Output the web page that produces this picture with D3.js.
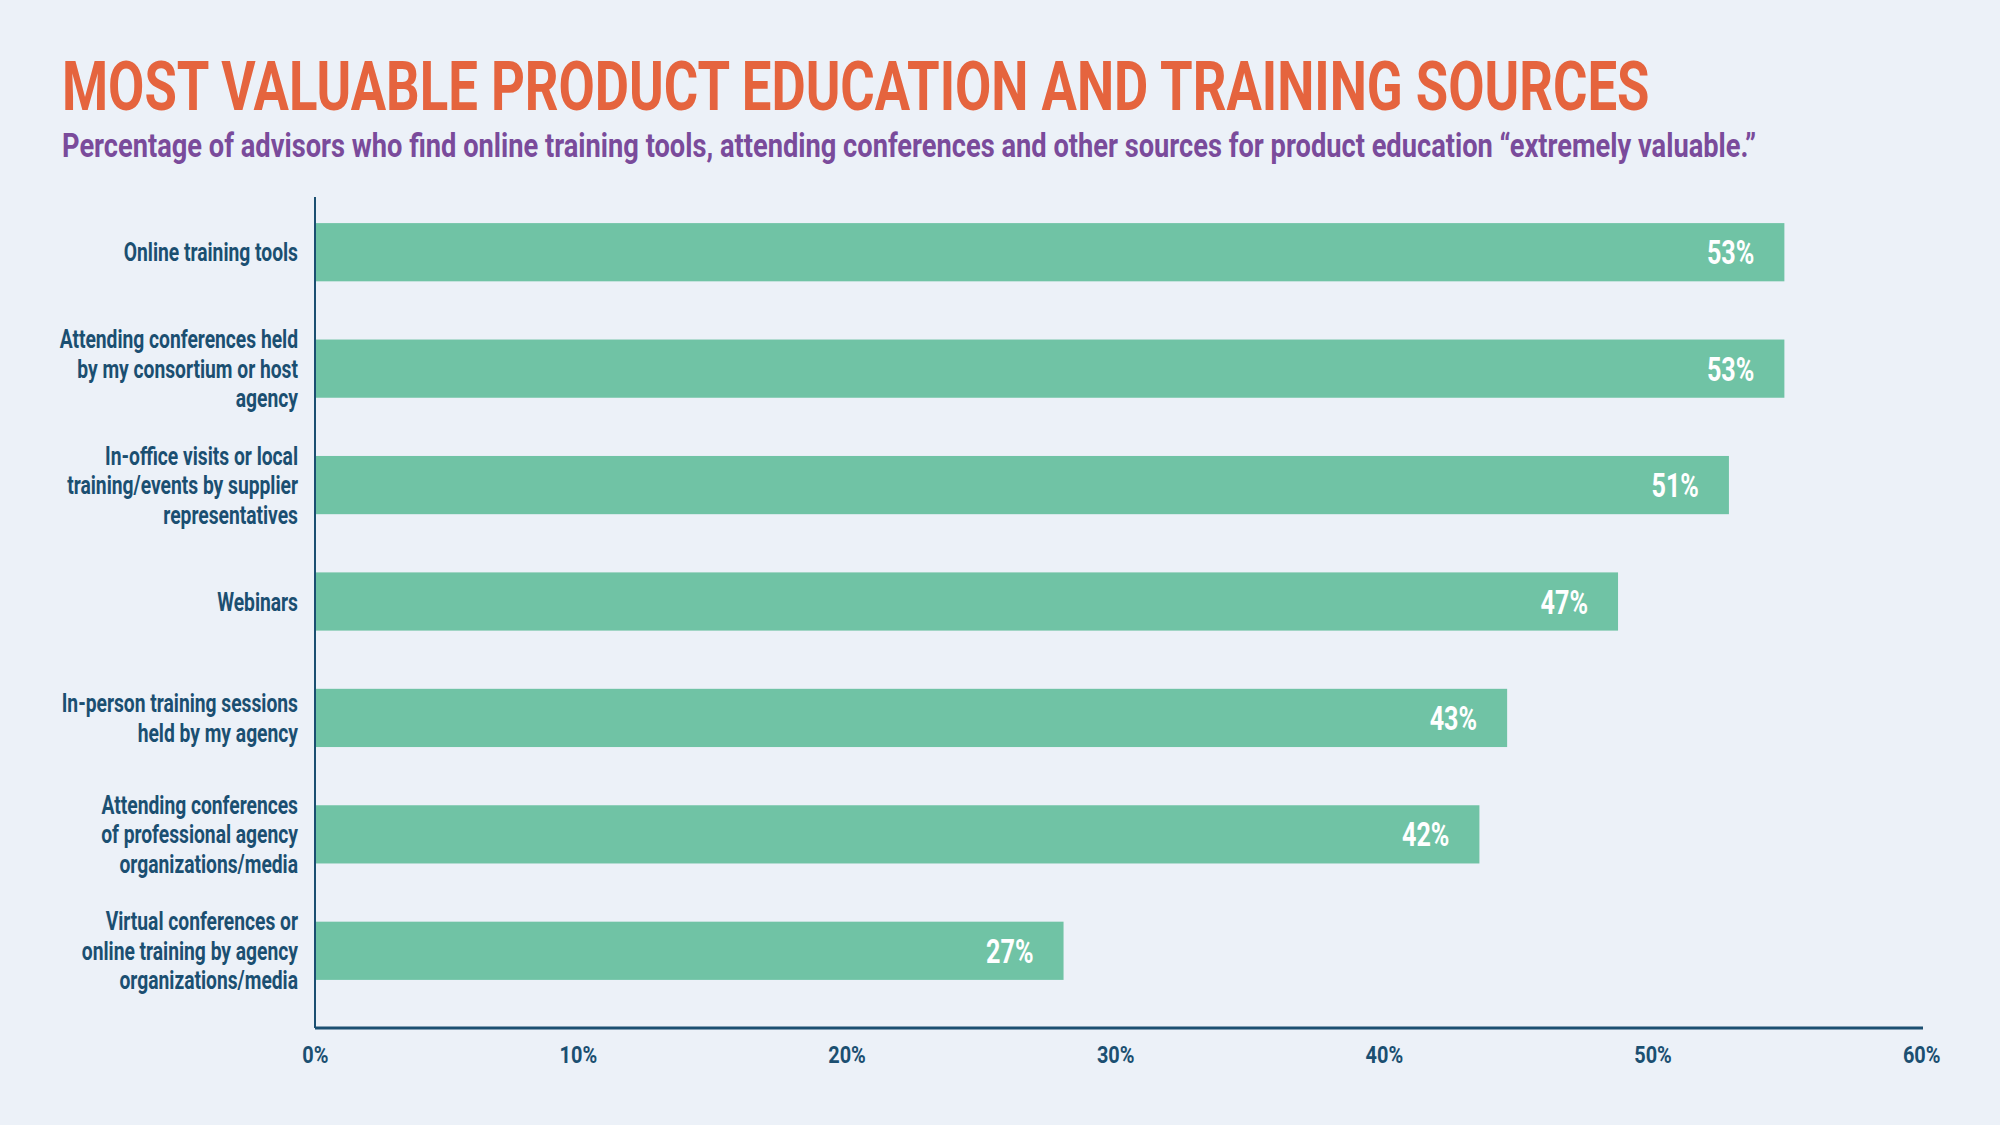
<!DOCTYPE html>
<html>
<head>
<meta charset="utf-8">
<script src="https://cdn.jsdelivr.net/npm/d3@7"></script>
<style>
  html, body { margin: 0; padding: 0; background: #ecf1f8; }
  svg { display: block; }
  text { font-family: Roboto, "Liberation Sans", sans-serif; font-weight: 700; }
</style>
</head>
<body>
<svg id="chart"></svg>
<script>
// Horizontal bars: share of advisors rating each training source "extremely valuable"

const categories = [
    "Online training tools",
    "Attending conferences held\nby my consortium or host\nagency",
    "In-office visits or local\ntraining/events by supplier\nrepresentatives",
    "Webinars",
    "In-person training sessions\nheld by my agency",
    "Attending conferences\nof professional agency\norganizations/media",
    "Virtual conferences or\nonline training by agency\norganizations/media"
];
const values = [53, 53, 51, 47, 43, 42, 27];
const tickValues = [0, 10, 20, 30, 40, 50, 60];

const width = 2000, height = 1125;
const plotLeft = 315, plotRight = 1923, plotTop = 197, plotBottom = 1028;

const svg = d3.select("#chart")
    .attr("width", width)
    .attr("height", height);

svg.append("rect")
    .attr("width", width)
    .attr("height", height)
    .attr("fill", "#ecf1f8");

// squeeze text horizontally (the original uses a condensed face)
function squeeze(sel, k) {
    sel.each(function() {
        const t = d3.select(this);
        const x = +t.attr("x") || 0, y = +t.attr("y") || 0;
        t.attr("x", 0).attr("y", 0)
            .attr("transform", `translate(${x},${y}) scale(${k},1)`);
    });
}
function squeezeTo(sel, w) {
    sel.each(function() {
        squeeze(d3.select(this), w / this.getComputedTextLength());
    });
}

svg.append("text")
    .attr("x", 62)
    .attr("y", 110)
    .attr("font-size", 69)
    .attr("font-weight", 900)
    .attr("fill", "#e5643e")
    .text("MOST VALUABLE PRODUCT EDUCATION AND TRAINING SOURCES")
    .call(squeezeTo, 1588);

svg.append("text")
    .attr("x", 62)
    .attr("y", 157)
    .attr("font-size", 33)
    .attr("fill", "#7a4b9b")
    .text("Percentage of advisors who find online training tools, attending conferences and other sources for product education \u201cextremely valuable.\u201d")
    .call(squeezeTo, 1695);

// the original's bars run a little longer than its 0-60% axis implies,
// so bars use their own scale over the same pixel range
const x = d3.scaleLinear().domain([0, 58]).range([plotLeft, plotRight]);
const xAxisScale = d3.scaleLinear().domain([0, 60]).range([plotLeft, plotRight + 4]);

const y = d3.scaleBand()
    .domain(categories)
    .range([194, 1009])
    .paddingInner(0.5)
    .paddingOuter(0.25);

const bars = svg.append("g");

bars.selectAll("rect")
    .data(values)
    .enter().append("rect")
    .attr("x", x(0))
    .attr("y", (d, i) => y(categories[i]))
    .attr("width", d => x(d) - x(0))
    .attr("height", y.bandwidth())
    .attr("fill", "#70c3a5");

bars.selectAll("text")
    .data(values)
    .enter().append("text")
    .attr("x", d => x(d) - 30)
    .attr("y", (d, i) => y(categories[i]) + y.bandwidth() / 2 + 12)
    .attr("text-anchor", "end")
    .attr("font-size", 34)
    .attr("fill", "#ffffff")
    .text(d => d + "%")
    .call(squeeze, 0.74);

// category labels, one text per line
const lineHeight = 29.5;
categories.forEach(cat => {
    const lines = cat.split("\n");
    const cy = y(cat) + y.bandwidth() / 2;
    lines.forEach((line, j) => {
        svg.append("text")
            .attr("x", 298)
            .attr("y", cy + (j - (lines.length - 1) / 2) * lineHeight + 9)
            .attr("text-anchor", "end")
            .attr("font-size", 25)
            .attr("fill", "#1b4f71")
            .text(line)
            .call(squeeze, 0.77);
    });
});

// axes
svg.append("line")
    .attr("x1", plotLeft).attr("x2", plotLeft)
    .attr("y1", plotTop).attr("y2", plotBottom)
    .attr("stroke", "#1b4f71")
    .attr("stroke-width", 2);

const xAxis = svg.append("g")
    .attr("transform", `translate(0, ${plotBottom})`)
    .call(d3.axisBottom(xAxisScale)
        .tickValues(tickValues)
        .tickFormat(d => d + "%")
        .tickSize(0)
        .tickPadding(18));

xAxis.select(".domain")
    .attr("d", `M${plotLeft},0H${plotRight}`)
    .attr("stroke", "#1b4f71")
    .attr("stroke-width", 3);

// tick labels in the original are right-aligned just past each tick
xAxis.selectAll(".tick text")
    .attr("font-size", 24)
    .attr("font-family", "Roboto, sans-serif")
    .attr("font-weight", 700)
    .attr("fill", "#1b4f71")
    .attr("text-anchor", "end")
    .attr("transform", "translate(13,0) scale(0.83,1)");
</script>
</body>
</html>
